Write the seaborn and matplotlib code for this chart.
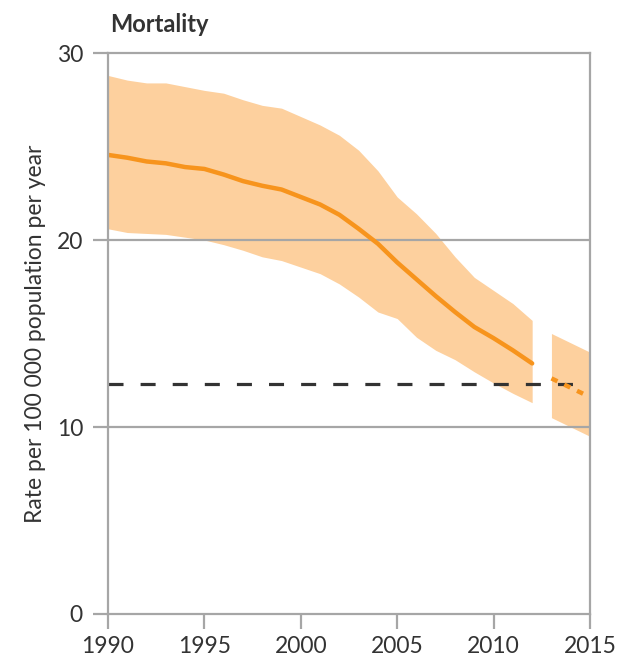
import matplotlib
matplotlib.use("Agg")
import matplotlib.pyplot as plt
import seaborn as sns
import pandas as pd

years = list(range(1990, 2013))
central = [24.55, 24.4, 24.2, 24.1, 23.9, 23.8, 23.5, 23.15, 22.9, 22.7, 22.3, 21.9,
           21.35, 20.6, 19.8, 18.8, 17.9, 17.0, 16.15, 15.35, 14.75, 14.1, 13.4]
upper = [28.8, 28.55, 28.4, 28.4, 28.2, 28.0, 27.85, 27.5, 27.2, 27.05, 26.6, 26.15,
         25.6, 24.8, 23.7, 22.3, 21.4, 20.35, 19.1, 18.0, 17.3, 16.6, 15.7]
lower = [20.6, 20.4, 20.35, 20.3, 20.15, 20.0, 19.75, 19.45, 19.1, 18.9, 18.55, 18.2,
         17.65, 16.95, 16.15, 15.8, 14.8, 14.1, 13.6, 12.95, 12.35, 11.8, 11.3]

proj_years = [2013, 2014, 2015]
proj = [12.6, 12.1, 11.6]
proj_upper = [15.0, 14.5, 14.0]
proj_lower = [10.5, 10.0, 9.5]

target_years = [1990, 2014.3]
target = [12.3, 12.3]

x_ticks = [1990, 1995, 2000, 2005, 2010, 2015]
y_ticks = [0, 10, 20, 30]

sns.set_theme(style="white")
plt.rcParams['font.family'] = ['Lato', 'DejaVu Sans']

ORANGE = "#F7941D"
BAND = "#FDD09E"
GRAY = "#A6A6A6"
TXT = "#333333"

fig = plt.figure(figsize=(6.2, 6.62), dpi=100)
ax = fig.add_axes([108/620, 1-614/662, (590-108)/620, (614-53)/662])

ax.fill_between(years, lower, upper, color=BAND, linewidth=0, zorder=1)
ax.fill_between(proj_years, proj_lower, proj_upper, color=BAND, linewidth=0, zorder=1)

for yv in [10, 20]:
    ax.axhline(yv, color=GRAY, lw=1.6, zorder=2)

df_t = pd.DataFrame({"year": target_years, "v": target})
sns.lineplot(data=df_t, x="year", y="v", ax=ax, color="#333333", lw=2.3, zorder=3)
ax.lines[-1].set_dashes([4.7, 5.35])

df_c = pd.DataFrame({"year": years, "v": central})
sns.lineplot(data=df_c, x="year", y="v", ax=ax, color=ORANGE, lw=3.2, zorder=4)

df_p = pd.DataFrame({"year": proj_years, "v": proj})
sns.lineplot(data=df_p, x="year", y="v", ax=ax, color=ORANGE, lw=3.2, zorder=4)
ax.lines[-1].set_dashes([1.5, 1.7])

ax.set_xlim(1990, 2015)
ax.set_ylim(0, 30)
ax.set_xticks(x_ticks)
ax.set_yticks(y_ticks)
ax.set_xlabel("")
ax.set_ylabel("Rate per 100 000 population per year", fontsize=16.5, color=TXT, labelpad=8)

for s in ax.spines.values():
    s.set_visible(True)
    s.set_color(GRAY)
    s.set_linewidth(1.6)
    s.set_zorder(5)

ax.tick_params(axis="both", which="both", direction="out", length=11, width=1.6,
               color=GRAY, labelcolor=TXT, labelsize=16.5)
ax.tick_params(axis="y", pad=7)
ax.tick_params(axis="x", pad=5)
ax.tick_params(left=True, bottom=True)

fig.text(110/620, 1-25/662, "Mortality", fontsize=17, fontweight="bold",
         color=TXT, ha="left", va="center")

fig.savefig("out.png", dpi=100)
